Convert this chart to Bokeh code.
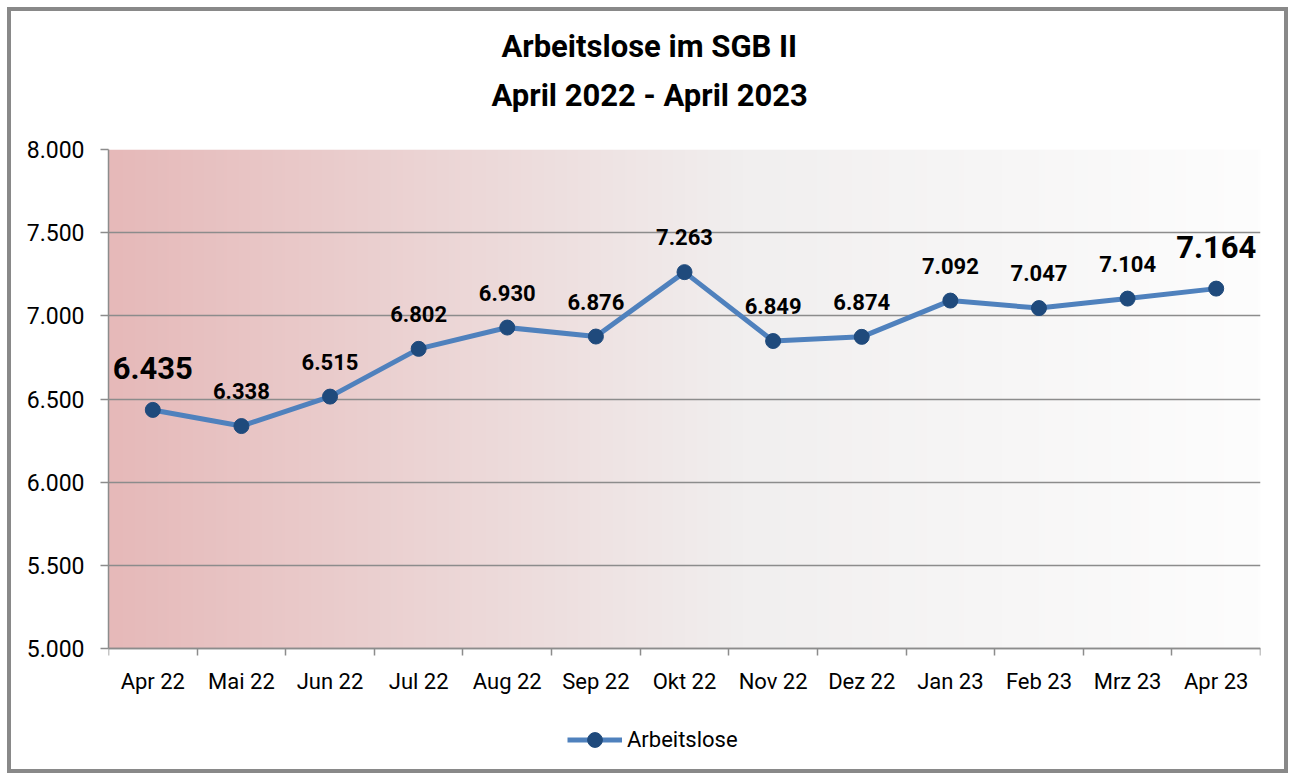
import numpy as np
from bokeh.plotting import figure
from bokeh.models import (Range1d, FixedTicker, ColumnDataSource, LabelSet, Legend,
                          LegendItem, Title)
from bokeh.core.properties import value
from bokeh.embed import file_html
from bokeh.resources import INLINE

# ---- data ----
months = ["Apr 22", "Mai 22", "Jun 22", "Jul 22", "Aug 22", "Sep 22", "Okt 22",
          "Nov 22", "Dez 22", "Jan 23", "Feb 23", "Mrz 23", "Apr 23"]
arbeitslose = [6435, 6338, 6515, 6802, 6930, 6876, 7263, 6849, 6874, 7092, 7047, 7104, 7164]
y_ticks = [5000, 5500, 6000, 6500, 7000, 7500, 8000]
y_tick_labels = ["5.000", "5.500", "6.000", "6.500", "7.000", "7.500", "8.000"]
series_name = "Arbeitslose"
title_line1 = "Arbeitslose im SGB II"
title_line2 = "April 2022 - April 2023"

FONT = "Roboto"
GRID = "#8c8c8c"

def fmt(v):
    return f"{v:,}".replace(",", ".")

n = len(months)
xc = [i + 0.5 for i in range(n)]
y_lo, y_hi = y_ticks[0], y_ticks[-1]

# layout (pixels): value axis occupies 500 px, extra px below it hold labels + legend
AXIS_PX, EXTRA_PX = 500, 125
y_start = y_lo - (y_hi - y_lo) * EXTRA_PX / AXIS_PX

p = figure(width=1281, height=766, output_backend="svg", toolbar_location=None,
           x_range=Range1d(0, n), y_range=Range1d(y_start, y_hi),
           min_border_left=97, min_border_right=32, min_border_top=138,
           min_border_bottom=4)
p.styles = {"border": "4px solid #898989", "margin": "7px 0 0 7px"}
p.background_fill_color = "white"
p.border_fill_color = "white"
p.outline_line_color = None

# gradient background of the value area
cols = 400
t = np.linspace(0, 1, cols)
stops_t = [0.0, 0.55, 1.0]
stops_c = np.array([[230, 185, 185], [241, 239, 239], [253, 253, 253]], dtype=float)
rgb = np.stack([np.interp(t, stops_t, stops_c[:, k]) for k in range(3)], axis=1)
img = np.zeros((1, cols), dtype=np.uint32)
view = img.view(dtype=np.uint8).reshape((1, cols, 4))
view[0, :, 0] = rgb[:, 0].astype(np.uint8)
view[0, :, 1] = rgb[:, 1].astype(np.uint8)
view[0, :, 2] = rgb[:, 2].astype(np.uint8)
view[0, :, 3] = 255
p.image_rgba(image=[img], x=0, y=y_lo, dw=n, dh=y_hi - y_lo, level="image")

# titles
p.add_layout(Title(text=title_line2, align="left", text_font=FONT, text_font_size="31px",
                   text_font_style="bold", text_color="black", standoff=71, offset=383), "above")
p.add_layout(Title(text=title_line1, align="left", text_font=FONT, text_font_size="31px",
                   text_font_style="bold", text_color="black", standoff=-51, offset=393), "above")

# axes
p.xaxis.fixed_location = y_lo
p.xaxis.ticker = FixedTicker(ticks=xc, minor_ticks=list(range(n + 1)))
p.xaxis.major_label_overrides = {x: m for x, m in zip(xc, months)}
p.xaxis.major_tick_out = 0
p.xaxis.major_tick_in = 0
p.xaxis.minor_tick_out = 7
p.xaxis.minor_tick_in = 0
p.xaxis.minor_tick_line_color = GRID
p.xaxis.minor_tick_line_width = 1.5
p.xaxis.axis_line_color = GRID
p.xaxis.axis_line_width = 1.5
p.xaxis.major_label_text_font = FONT
p.xaxis.major_label_text_font_size = "22px"
p.xaxis.major_label_text_color = "black"
p.xaxis.major_label_standoff = 13

p.yaxis.ticker = FixedTicker(ticks=y_ticks)
p.yaxis.bounds = (y_lo, y_hi)
p.yaxis.major_label_overrides = {v: s for v, s in zip(y_ticks, y_tick_labels)}
p.yaxis.major_tick_out = 8
p.yaxis.major_tick_in = 0
p.yaxis.minor_tick_line_color = None
p.yaxis.major_tick_line_color = GRID
p.yaxis.major_tick_line_width = 1.5
p.yaxis.axis_line_color = GRID
p.yaxis.axis_line_width = 1.5
p.yaxis.major_label_text_font = FONT
p.yaxis.major_label_text_font_size = "23px"
p.yaxis.major_label_text_color = "black"
p.yaxis.major_label_standoff = 16

p.xgrid.grid_line_color = None
p.ygrid.grid_line_color = GRID
p.ygrid.grid_line_width = 1.5

# series
src = ColumnDataSource(dict(x=xc, y=arbeitslose, label=[fmt(v) for v in arbeitslose]))
line = p.line("x", "y", source=src, line_color="#4f81bd", line_width=5)
pts = p.scatter("x", "y", source=src, size=15, fill_color="#1f4a7c", line_color="#1f4a7c")

big_idx = [0, n - 1]
small_idx = [i for i in range(n) if i not in big_idx]
src_small = ColumnDataSource(dict(x=[xc[i] for i in small_idx],
                                  y=[arbeitslose[i] for i in small_idx],
                                  label=[fmt(arbeitslose[i]) for i in small_idx]))
src_big = ColumnDataSource(dict(x=[xc[i] for i in big_idx],
                                y=[arbeitslose[i] for i in big_idx],
                                label=[fmt(arbeitslose[i]) for i in big_idx]))
p.add_layout(LabelSet(x="x", y="y", text="label", source=src_small, text_align="center",
                      text_baseline="alphabetic", y_offset=27, text_font=value(FONT),
                      text_font_size=value("22px"), text_font_style="bold", text_color="black"))
p.add_layout(LabelSet(x="x", y="y", text="label", source=src_big, text_align="center",
                      text_baseline="alphabetic", y_offset=31, text_font=value(FONT),
                      text_font_size=value("31px"), text_font_style="bold", text_color="black"))

legend = Legend(items=[LegendItem(label=series_name, renderers=[line, pts])],
                location=(459, 15), orientation="horizontal",
                background_fill_alpha=0, border_line_color=None,
                label_text_font=FONT, label_text_font_size="22px", label_text_color="black",
                glyph_width=55, glyph_height=37, label_standoff=5,
                padding=0, margin=0)
p.add_layout(legend, "center")

open("out.html", "w").write(file_html(p, INLINE))
